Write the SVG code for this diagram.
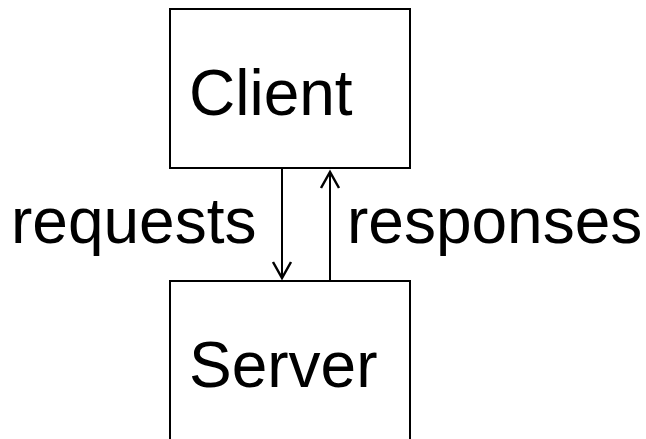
<svg xmlns="http://www.w3.org/2000/svg" width="646" height="439" viewBox="0 0 646 439">
  <defs>
    <style>
      .box { fill: #fff; stroke: #000; stroke-width: 2; }
      .lbl { font-family: "Liberation Sans", Arial, sans-serif; font-size: 64px; fill: #000; }
      .edge { stroke: #000; stroke-width: 2; fill: none; }
      .head { stroke: #000; stroke-width: 2.5; fill: none; }
    </style>
  </defs>
  <rect width="646" height="439" fill="#fff"/>
  <g id="client">
    <rect class="box" x="170" y="9" width="240" height="159"/>
    <text class="lbl" x="189" y="115">Client</text>
  </g>
  <g id="server">
    <rect class="box" x="170" y="281" width="240" height="170"/>
    <text class="lbl" x="189" y="387">Server</text>
  </g>
  <g id="connectors">
    <line class="edge" x1="282" y1="168" x2="282" y2="278"/>
    <polyline class="head" points="273,262 282,278 291,262"/>
    <text class="lbl" x="11" y="243">requests</text>
    <line class="edge" x1="330" y1="281" x2="330" y2="172"/>
    <polyline class="head" points="321,188 330,172 339,188"/>
    <text class="lbl" x="347" y="243">responses</text>
  </g>
</svg>
